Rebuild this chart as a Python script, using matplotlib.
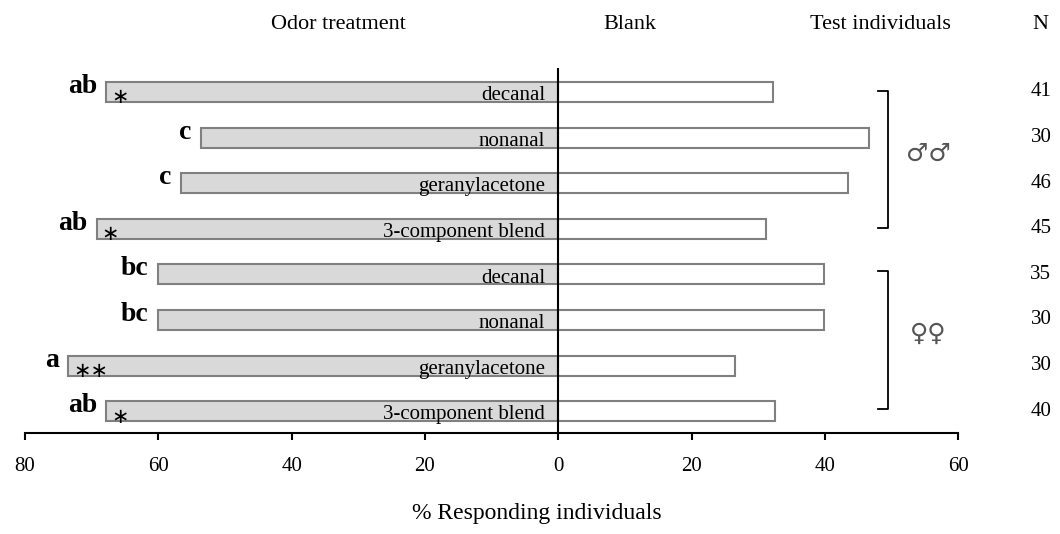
import matplotlib
matplotlib.use("Agg")
import matplotlib.pyplot as plt
import numpy as np

# ---- data ----
compounds = ["decanal", "nonanal", "geranylacetone", "3-component blend",
             "decanal", "nonanal", "geranylacetone", "3-component blend"]
odor_pct = [67.8, 53.6, 56.6, 69.2, 60.1, 60.1, 73.5, 67.8]
blank_pct = [32.2, 46.6, 43.4, 31.1, 39.8, 39.8, 26.5, 32.5]
letters = ["ab", "c", "c", "ab", "bc", "bc", "a", "ab"]
stars = ["*", "", "", "*", "", "", "**", "*"]
n_values = [41, 30, 46, 45, 35, 30, 30, 40]
tick_values = [-80, -60, -40, -20, 0, 20, 40, 60]
tick_labels = ["80", "60", "40", "20", "0", "20", "40", "60"]

serif = ["Liberation Serif", "DejaVu Serif"]
plt.rcParams["font.family"] = serif

fig = plt.figure(figsize=(10.6, 5.34), dpi=100)
ax = fig.add_axes([0.0236, 0.189, 0.8804, 0.684])

y = np.arange(len(compounds))
bh = 0.44
ax.barh(y, -np.array(odor_pct), height=bh, color="#d9d9d9",
        edgecolor="#808080", linewidth=1.5, zorder=2)
ax.barh(y, blank_pct, height=bh, color="white",
        edgecolor="#808080", linewidth=1.5, zorder=2)

ax.set_xlim(-80, 60)
ax.set_ylim(7.48, -0.53)

for sp in ["top", "right", "left"]:
    ax.spines[sp].set_visible(False)
ax.spines["bottom"].set_linewidth(1.5)
ax.axvline(0, color="black", linewidth=1.5, zorder=3)
ax.set_yticks([])
ax.set_xticks(tick_values)
ax.set_xticklabels(tick_labels, fontsize=15)
ax.tick_params(axis="x", direction="out", length=5, width=1.5, pad=12)

for i in range(len(compounds)):
    ax.text(-2.0, y[i] + 0.08, compounds[i], ha="right", va="center",
            fontsize=15, zorder=4)
    ax.text(-odor_pct[i] - 1.4, y[i] - 0.12, letters[i], ha="right",
            va="center", fontsize=20, fontweight="bold")
    if stars[i]:
        ax.text(-odor_pct[i] + 0.7, y[i] + 0.12, stars[i].replace("*", "\u2217"),
                ha="left", va="center", fontsize=15, family=["DejaVu Sans"])
    ax.text(72.4, y[i], str(n_values[i]), ha="center", va="center",
            fontsize=15, clip_on=False)

# brackets
def bracket(y0, y1):
    xb = 49.5
    ax.plot([xb - 1.5, xb, xb, xb - 1.5], [y0, y0, y1, y1], color="black",
            linewidth=1.3, clip_on=False)

bracket(-0.02, 2.98)
bracket(3.93, 6.95)
ax.text(55.5, 1.35, "\u2642\u2642", ha="center", va="center", fontsize=18,
        color="#555555", family=["DejaVu Sans"])
ax.text(55.5, 5.3, "\u2640\u2640", ha="center", va="center", fontsize=18,
        color="#555555", family=["DejaVu Sans"])

# headers
hy = -1.47
ax.text(-33, hy, "Odor treatment", ha="center", va="center", fontsize=16, clip_on=False)
ax.text(10.8, hy, "Blank", ha="center", va="center", fontsize=16, clip_on=False)
ax.text(48.3, hy, "Test individuals", ha="center", va="center", fontsize=16, clip_on=False)
ax.text(72.3, hy, "N", ha="center", va="center", fontsize=16, clip_on=False)

fig.text(537 / 1060, 1 - 513 / 534, "% Responding individuals", ha="center",
         va="center", fontsize=17)

fig.savefig("out.png", dpi=100)
